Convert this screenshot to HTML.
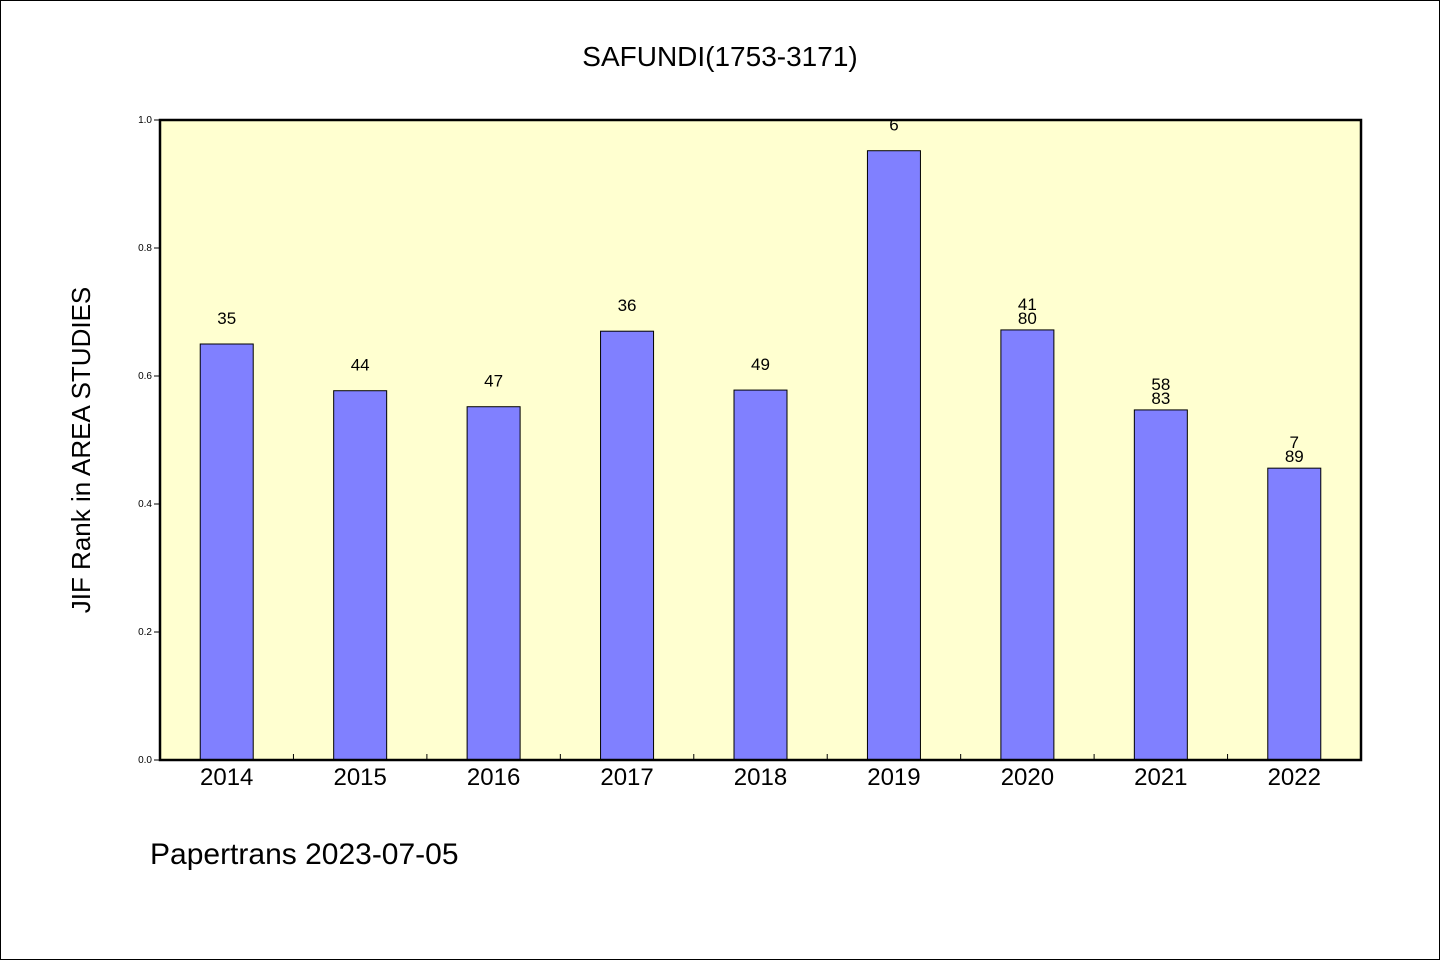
<!DOCTYPE html>
<html><head><meta charset="utf-8"><style>
html,body{margin:0;padding:0;background:#fff}
svg{display:block}
text{font-family:"WenQuanYi Zen Hei","Liberation Sans",sans-serif;fill:#000}
</style></head><body>
<svg width="1440" height="960">
<rect x="0.5" y="0.5" width="1439" height="959" fill="#fff" stroke="#000"/>
<text x="720" y="66" font-size="28" text-anchor="middle">SAFUNDI(1753-3171)</text>
<rect x="160" y="120" width="1201" height="640" fill="#ffffd0"/>
<g id="bars"></g>
<rect x="160" y="120" width="1201" height="640" fill="none" stroke="#000" stroke-width="2.5"/>
<text transform="translate(90,450) rotate(-90)" font-size="26" text-anchor="middle">JIF Rank in AREA STUDIES</text>
<text x="150" y="864" font-size="30">Papertrans 2023-07-05</text>
</svg>
<script>
const categories=["2014","2015","2016","2017","2018","2019","2020","2021","2022"];
const values=[0.65,0.577,0.552,0.670,0.578,0.952,0.672,0.547,0.456];
const rankLabels=["35","44","47","36","49","6","41","58","7"];
const totalLabels=["","","","","","","80","83","89"];
const yTicks=[0,0.2,0.4,0.6,0.8,1.0];
const yTickLabels=["0.0","0.2","0.4","0.6","0.8","1.0"];
const NS="http://www.w3.org/2000/svg";
const X0=160,W=1201,Y0=760,H=640;
const band=W/categories.length;
const xc=i=>X0+band*(i+0.5);
const y=v=>Y0-v*H;
const g=document.getElementById('bars');
function mk(t,a){const e=document.createElementNS(NS,t);for(const k in a)e.setAttribute(k,a[k]);g.appendChild(e);return e;}
yTicks.forEach((v,i)=>{
  const l=mk('line',{x1:X0-6,x2:X0,y1:y(v),y2:y(v),stroke:'#000'});
  
  
  const t=mk('text',{x:X0-8,y:y(v)+3,'font-size':10,'text-anchor':'end'});
  t.textContent=yTickLabels[i];
  
  
});
for(let i=1;i<categories.length;i++){
  const l=mk('line',{x1:X0+band*i,x2:X0+band*i,y1:Y0,y2:Y0-6,stroke:'#000'});
  
  
}
categories.forEach((c,i)=>{
  const bw=53;
  const r=mk('rect',{x:xc(i)-bw/2,y:y(values[i]),width:bw,height:values[i]*H,fill:'#8080ff',stroke:'#000'});
  
  
  const top=y(values[i]);
  if(totalLabels[i]){
    const t2=mk('text',{x:xc(i),y:top-6,'font-size':17,'text-anchor':'middle'});
    t2.textContent=totalLabels[i];
    
    
    const t1=mk('text',{x:xc(i),y:top-20,'font-size':17,'text-anchor':'middle'});
    t1.textContent=rankLabels[i];
    
    
  } else {
    const t1=mk('text',{x:xc(i),y:top-20,'font-size':17,'text-anchor':'middle'});
    t1.textContent=rankLabels[i];
    
    
  }
  const xl=mk('text',{x:xc(i),y:Y0+25,'font-size':24,'text-anchor':'middle'});
  xl.textContent=c;
  
  
});
</script>
</body></html>
